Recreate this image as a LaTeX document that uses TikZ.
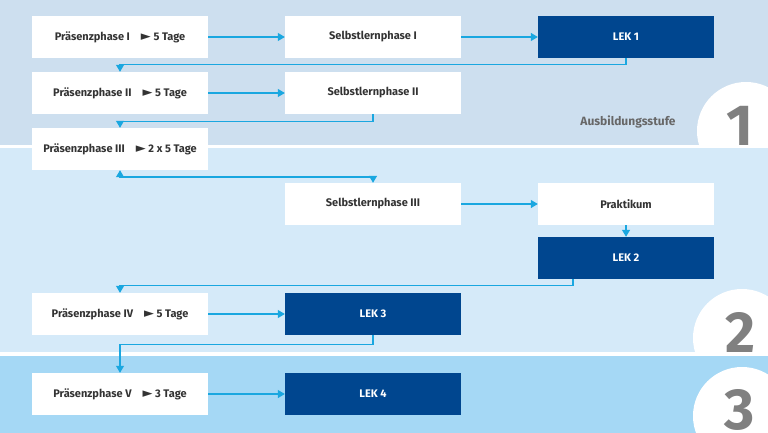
\documentclass[tikz,border=0pt]{standalone}
\usepackage{fontspec}
\setmainfont{Fira Sans}
\newfontfamily\symfont{DejaVu Sans}
\newcommand{\tri}{\quad{\symfont\fontsize{13}{13}\selectfont ►}\ }
\usetikzlibrary{arrows.meta}
\definecolor{bandA}{HTML}{CDDFEF}
\definecolor{bandB}{HTML}{D5EAF9}
\definecolor{bandC}{HTML}{A5D8F5}
\definecolor{dark}{HTML}{00468F}
\definecolor{cy}{HTML}{1AA7E0}
\definecolor{txt}{HTML}{333333}
\definecolor{num}{HTML}{808080}
\begin{document}
\begin{tikzpicture}[x=1pt,y=-1pt,
  box/.style={fill=white,minimum width=176pt,minimum height=42pt,inner sep=0pt,font=\bfseries\fontsize{11}{13}\selectfont,text=txt},
  dbox/.style={box,fill=dark,text=white},
  conn/.style={cy,line width=1.2pt,-{Triangle[width=8pt,length=7pt]}}]
\useasboundingbox (0,0) rectangle (768,433);
\fill[bandA] (0,0) rectangle (768,145);
\fill[bandB] (0,148) rectangle (768,352);
\fill[bandC] (0,356) rectangle (768,433);
\begin{scope}
\clip (0,0) rectangle (768,145);
\fill[white] (746,131) circle (49);
\end{scope}
\begin{scope}
\clip (0,148) rectangle (768,352);
\fill[white] (742,338) circle (49);
\end{scope}
\begin{scope}
\clip (0,356) rectangle (768,433);
\fill[white] (742,416) circle (49);
\end{scope}
\node[font=\bfseries\fontsize{58}{60}\selectfont,text=num] (n1) at (740,126) {1};
\node[font=\bfseries\fontsize{58}{60}\selectfont,text=num] (n2) at (740,332) {2};
\node[font=\bfseries\fontsize{58}{60}\selectfont,text=num] (n3) at (740,410) {3};
\node[font=\bfseries\fontsize{12}{14}\selectfont,text=num!80!black] (as) at (628,122) {Ausbildungsstufe};

\node[box] (p1) at (120,37) {Präsenzphase I\tri 5 Tage};
\node[box] (s1) at (373,37) {Selbstlernphase I};
\node[dbox] (l1) at (626,37) {LEK 1};
\node[box] (p2) at (120,93) {Präsenzphase II\tri 5 Tage};
\node[box] (s2) at (373,93) {Selbstlernphase II};
\node[box] (p3) at (120,149) {Präsenzphase III\tri 2 x 5 Tage};
\node[box] (s3) at (373,204) {Selbstlernphase III};
\node[box] (pr) at (626,204) {Praktikum};
\node[dbox] (l2) at (626,258) {LEK 2};
\node[box] (p4) at (120,314) {Präsenzphase IV\tri 5 Tage};
\node[dbox] (l3) at (373,314) {LEK 3};
\node[box] (p5) at (120,394) {Präsenzphase V\tri 3 Tage};
\node[dbox] (l4) at (373,394) {LEK 4};

\draw[conn] (p1) -- (s1);
\draw[conn] (s1) -- (l1);
\draw[conn] (l1.south) -- ++(0,6) -| (p2.north);
\draw[conn] (p2) -- (s2);
\draw[conn] (s2.south) -- ++(0,7) -| (p3.north);
\draw[conn,{Triangle[width=8pt,length=7pt]}-{Triangle[width=8pt,length=7pt]}] (p3.south) |- (248,177) -| (s3.north);
\draw[conn] (s3) -- (pr);
\draw[conn] (pr) -- (l2);
\draw[conn] ([xshift=-53pt]l2.south) -- ++(0,6) -| (p4.north);
\draw[conn] (p4) -- (l3);
\draw[conn] (l3.south) -- ++(0,9) -| (p5.north);
\draw[conn] (p5) -- (l4);
\end{tikzpicture}
\end{document}
